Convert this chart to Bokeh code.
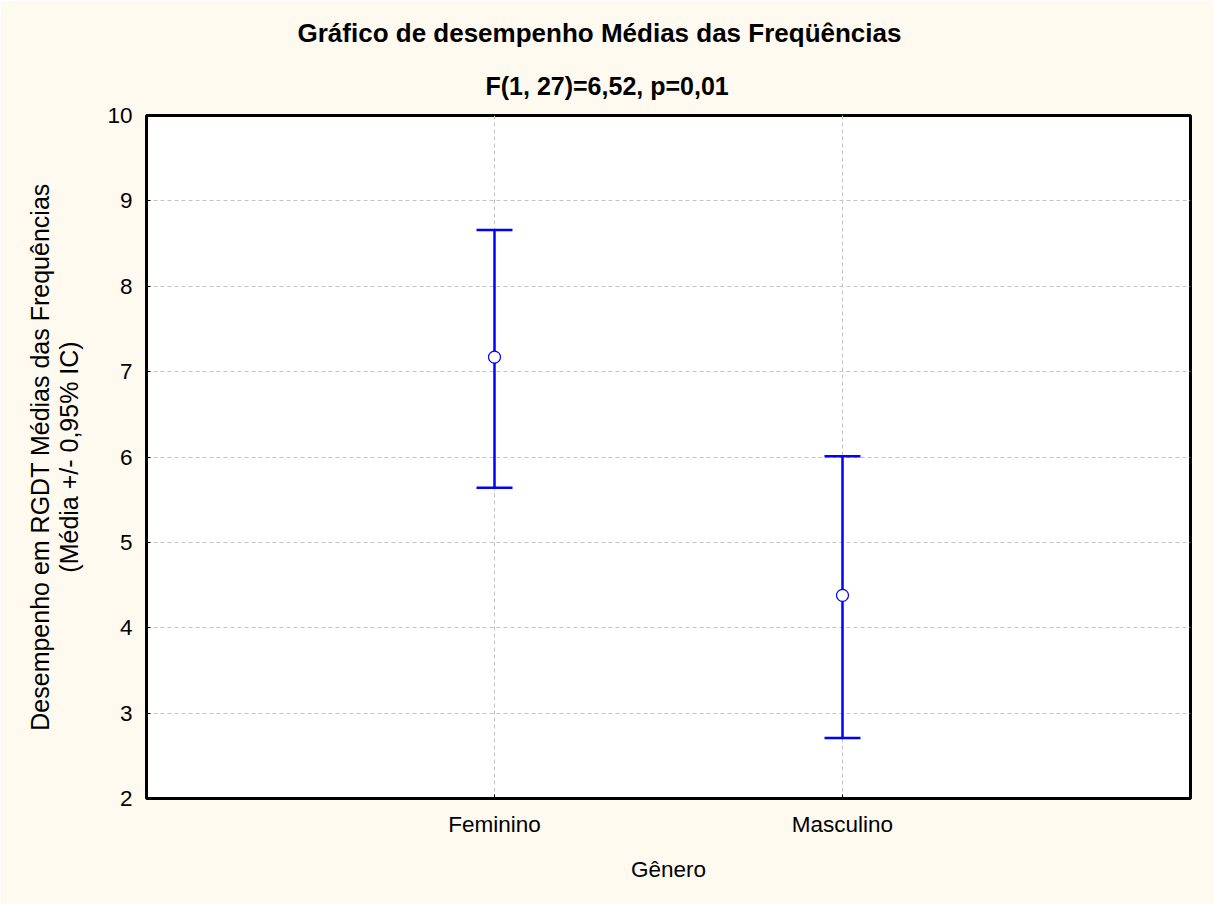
from bokeh.plotting import figure
from bokeh.models import Range1d, FixedTicker, Title, ColumnDataSource
from bokeh.embed import file_html
from bokeh.resources import INLINE

# ---- data ----
categories = ["Feminino", "Masculino"]
means = [7.17, 4.38]
upper = [8.66, 6.01]
lower = [5.64, 2.71]
y_ticks = [2, 3, 4, 5, 6, 7, 8, 9, 10]

title_line1 = "Gráfico de desempenho Médias das Freqüências"
title_line2 = "F(1, 27)=6,52, p=0,01"
y_label = "Desempenho em RGDT Médias das Frequências\n(Média +/- 0,95% IC)"
x_label = "Gênero"

CREAM = "#FFFAF0"
BLUE = "#0000FF"
FONT = "Liberation Sans"

xpos = [i + 1 for i in range(len(categories))]
src = ColumnDataSource(dict(x=xpos, m=means, lo=lower, hi=upper))

W, H = 1214, 904
ML, MR, MT, MB = 146, 24, 115, 106

p = figure(width=W, height=H, x_range=Range1d(0, len(categories) + 1),
           y_range=Range1d(y_ticks[0], y_ticks[-1]),
           output_backend="svg", toolbar_location=None,
           min_border_left=ML, min_border_right=MR, min_border_top=MT, min_border_bottom=MB,
           background_fill_color="white", border_fill_color=CREAM)

p.outline_line_color = "black"
p.outline_line_width = 3

p.xaxis.ticker = FixedTicker(ticks=xpos)
p.xaxis.major_label_overrides = {x: c for x, c in zip(xpos, categories)}
p.yaxis.ticker = FixedTicker(ticks=y_ticks)
for ax in (p.xaxis, p.yaxis):
    ax.axis_line_color = None
    ax.major_tick_in = 4
    ax.major_tick_out = 0
    ax.major_tick_line_color = "black"
    ax.major_tick_line_width = 1
    ax.minor_tick_line_color = None
    ax.major_label_text_font = FONT
    ax.major_label_text_font_size = "22.5px"
    ax.major_label_text_color = "black"
    ax.axis_label_text_font = FONT
    ax.axis_label_text_font_style = "normal"
    ax.axis_label_text_color = "black"
p.yaxis.major_label_standoff = 14
p.xaxis.major_label_standoff = 13
p.yaxis.axis_label = y_label
p.yaxis.axis_label_text_font_size = "25px"
p.yaxis.axis_label_standoff = 21
p.yaxis.axis_label_text_line_height = 1.05
p.xaxis.axis_label = x_label
p.xaxis.axis_label_text_font_size = "22.5px"
p.xaxis.axis_label_standoff = 17

p.grid.grid_line_color = "#C4C4C4"
p.grid.grid_line_dash = "4 3"
p.grid.grid_line_width = 1

# error bars
p.segment(x0="x", y0="lo", x1="x", y1="hi", source=src, line_color=BLUE, line_width=2.5)
p.scatter(x="x", y="hi", source=src, marker="dash", size=36, line_color=BLUE, line_width=2.5)
p.scatter(x="x", y="lo", source=src, marker="dash", size=36, line_color=BLUE, line_width=2.5)
p.scatter(x="x", y="m", source=src, marker="circle", size=12, fill_color="white",
          line_color=BLUE, line_width=1.2)

# titles (outer line = p.title, inner line = added Title)
p.title.text = title_line1
p.title.text_font = FONT
p.title.text_font_style = "bold"
p.title.text_font_size = "26px"
p.title.text_color = "black"
p.title.align = "left"
p.title.offset = 151
p.title.standoff = 14
p.add_layout(Title(text=title_line2, text_font=FONT, text_font_style="bold",
                   text_font_size="25px", text_color="black", align="left",
                   offset=339, standoff=31), "above")

html = file_html(p, INLINE)
open("out.html", "w").write(html)
